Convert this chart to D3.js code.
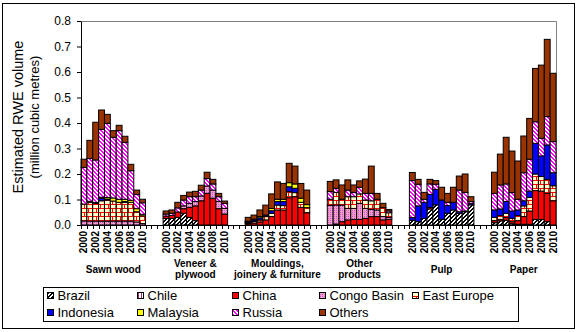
<!DOCTYPE html>
<html>
<head>
<meta charset="utf-8">
<script src="https://cdn.jsdelivr.net/npm/d3@7"></script>
<style>
  body { margin: 0; background: #fff; }
  svg { display: block; font-family: "Liberation Sans", Arial, sans-serif; }
</style>
</head>
<body>
<svg id="chart" width="577" height="332"></svg>
<script>
// ---- data -----------------------------------------------------------
const years = ["2000","2001","2002","2003","2004","2005","2006","2007","2008","2009","2010"];
const labelledYears = ["2000","2002","2004","2006","2008","2010"];
const products = ["Sawn wood","Veneer & plywood","Mouldings, joinery & furniture","Other products","Pulp","Paper"];
const productLabelLines = [["Sawn wood"],["Veneer &","plywood"],["Mouldings,","joinery & furniture"],["Other","products"],["Pulp"],["Paper"]];
const yTicks = [0,0.1,0.2,0.3,0.4,0.5,0.6,0.7,0.8];
const countries = ["Brazil","Chile","China","Congo Basin","East Europe","Indonesia","Malaysia","Russia","Others"];

// million m3 RWE, 2000-2010 for each product in the order above
const brazil = [
  0,0,0,0,0,0,0,0,0,0,0,
  0.026,0.026,0.030,0.046,0.030,0.017,0,0,0,0,0,
  0,0,0,0,0,0,0,0,0,0,0,
  0,0,0,0,0,0,0,0,0,0,0,
  0.018,0.013,0.026,0.063,0.079,0.023,0.046,0.059,0.046,0.052,0.079,
  0.009,0.016,0.019,0.005,0.003,0.003,0.003,0.022,0.022,0.013,0
];
const chile = [
  0,0,0,0,0,0,0,0,0,0,0,
  0,0,0,0,0,0,0,0,0,0,0,
  0,0,0,0,0,0,0,0,0,0,0,
  0,0,0,0,0,0,0,0,0,0,0,
  0,0,0,0,0,0,0,0,0,0,0,
  0,0,0,0,0,0,0,0,0,0,0
];
const china = [
  0,0,0,0,0,0,0,0,0,0,0,
  0.009,0.012,0.021,0.018,0.039,0.058,0.095,0.124,0.105,0.064,0.043,
  0.005,0.008,0.012,0.020,0.033,0.059,0.059,0.107,0.111,0.069,0.048,
  0,0.004,0.013,0.020,0.022,0.022,0.026,0.033,0.033,0.020,0.022,
  0,0,0,0.006,0,0,0,0,0,0,0,
  0.008,0.006,0.010,0.008,0.014,0.030,0.052,0.113,0.111,0.111,0.095
];
const congoBasin = [
  0.016,0.015,0.015,0.015,0.015,0.015,0.015,0.015,0.015,0.012,0.006,
  0,0,0,0.011,0.016,0.017,0.019,0.029,0.032,0.029,0.022,
  0,0,0,0,0,0,0,0,0,0,0,
  0.077,0.074,0.065,0.045,0.043,0.063,0.039,0.028,0.026,0.013,0.008,
  0,0,0,0,0,0,0,0,0,0,0,
  0,0,0,0,0,0,0,0,0,0,0
];
const eastEurope = [
  0.066,0.074,0.070,0.080,0.083,0.079,0.074,0.074,0.074,0.040,0.030,
  0,0,0,0,0,0,0,0,0,0,0,
  0.004,0.006,0.008,0.013,0.013,0.019,0.017,0.024,0.016,0.020,0.020,
  0.024,0.050,0.023,0.046,0.046,0.037,0.033,0.034,0.042,0.035,0.018,
  0,0,0,0,0,0,0,0,0,0,0,
  0.013,0.015,0.017,0.013,0.020,0.042,0.053,0.065,0.057,0.055,0.059
];
const indonesia = [
  0,0.004,0.003,0.010,0.004,0,0,0.003,0,0,0,
  0,0,0,0,0,0,0,0,0,0,0,
  0.004,0.006,0.008,0.006,0.010,0.014,0.016,0.019,0.017,0,0,
  0,0,0,0,0,0,0,0,0,0,0,
  0.011,0.062,0.063,0.051,0.061,0.075,0.030,0.030,0.006,0.003,0.006,
  0.029,0.026,0.046,0.029,0.022,0.020,0.025,0.120,0.081,0.135,0.051
];
const malaysia = [
  0,0,0,0.004,0.006,0.012,0.012,0.009,0.008,0.012,0.006,
  0,0,0,0,0,0,0,0,0,0,0,
  0.002,0.003,0.005,0,0.009,0.009,0.009,0.016,0.017,0.016,0.012,
  0,0,0,0,0,0,0,0,0,0,0,
  0,0,0,0,0,0,0,0,0,0,0,
  0,0,0,0,0,0,0,0,0,0,0
];
const russia = [
  0.144,0.168,0.167,0.266,0.291,0.238,0.269,0.223,0.116,0.056,0.045,
  0.008,0.008,0.016,0.023,0.026,0.019,0.023,0.029,0.024,0.018,0.020,
  0,0,0,0,0,0,0,0,0,0,0,
  0.030,0.016,0,0.026,0.017,0.026,0.026,0.029,0,0,0.007,
  0.145,0.085,0.012,0.041,0.020,0,0.013,0,0.085,0.073,0.007,
  0.065,0.094,0.069,0.072,0.042,0.110,0.125,0.085,0.069,0.111,0.122
];
const others = [
  0.032,0.071,0.148,0.076,0.035,0.026,0.021,0.024,0.025,0.017,0.014,
  0.012,0.013,0.022,0.018,0.018,0.021,0.019,0.025,0.018,0.013,0.009,
  0.015,0.016,0.026,0.039,0.057,0.068,0.062,0.076,0.070,0.058,0.057,
  0.040,0.033,0.056,0.040,0.029,0.025,0.056,0.107,0.023,0.017,0.006,
  0.032,0.019,0.027,0.018,0.014,0.050,0.035,0.059,0.055,0.072,0.019,
  0.083,0.121,0.183,0.163,0.150,0.144,0.160,0.209,0.287,0.303,0.268
];
const seriesValues = [brazil, chile, china, congoBasin, eastEurope, indonesia, malaysia, russia, others];

// ---- layout ---------------------------------------------------------
const svg = d3.select("#chart");
const plot = { left: 81, right: 556, top: 21, bottom: 225 };
const gapSlots = 3;

// one band per year, with empty spacer bands between products
const slotKeys = [];
products.forEach((p, pi) => {
  years.forEach(y => slotKeys.push(p + "|" + y));
  if (pi < products.length - 1) for (let g = 0; g < gapSlots; g++) slotKeys.push("gap" + pi + "-" + g);
});

const x = d3.scaleBand().domain(slotKeys).range([plot.left, plot.right]).padding(0);
const y = d3.scaleLinear().domain([0, 0.8]).range([plot.bottom, plot.top]);

const rows = [];
products.forEach((p, pi) => years.forEach((yr, yi) => {
  const row = { key: p + "|" + yr, product: p, year: yr };
  countries.forEach((c, ci) => row[c] = seriesValues[ci][pi * years.length + yi]);
  rows.push(row);
}));
const stacked = d3.stack().keys(countries)(rows);

// ---- fills ----------------------------------------------------------
const defs = svg.append("defs");
function pattern(id, w, h) {
  return defs.append("pattern").attr("id", id).attr("patternUnits", "userSpaceOnUse")
    .attr("width", w).attr("height", h).attr("shape-rendering", "crispEdges");
}
// pixel-stepped diagonal stripes on a 4x4 tile
function diagonal(id, bg, fg, rising) {
  const t = pattern(id, 4, 4);
  t.append("rect").attr("width", 4).attr("height", 4).attr("fill", bg);
  for (let i = 0; i < 4; i++) for (let j = 0; j < 4; j++) {
    const k = rising ? (i + j) % 4 : ((i - j) % 4 + 4) % 4;
    if (k < 2) t.append("rect").attr("x", i).attr("y", j).attr("width", 1).attr("height", 1).attr("fill", fg);
  }
}
diagonal("pBrazil", "#fff", "#000", true);
diagonal("pRussia", "#FF00FF", "#fff", false);
let p;
p = pattern("pChile", 3, 3);
p.append("rect").attr("width", 3).attr("height", 3).attr("fill", "#fff");
p.append("rect").attr("x", 0).attr("width", 1).attr("height", 3).attr("fill", "#993366");
p = pattern("pCongo", 4, 4);
p.append("rect").attr("width", 4).attr("height", 4).attr("fill", "#FF99CC");
p.append("rect").attr("width", 1).attr("height", 1).attr("fill", "#9966CC");
p.append("rect").attr("x", 2).attr("y", 2).attr("width", 1).attr("height", 1).attr("fill", "#9966CC");
p.append("rect").attr("x", 2).attr("y", 0).attr("width", 1).attr("height", 1).attr("fill", "#CC66CC");
p.append("rect").attr("x", 0).attr("y", 2).attr("width", 1).attr("height", 1).attr("fill", "#CC66CC");
p = pattern("pEast", 8, 8);
p.append("rect").attr("width", 8).attr("height", 8).attr("fill", "#FFFFCC");
p.append("path").attr("d", "M0,0.5H8M0,4.5H8M0.5,0V4.5M4.5,4.5V8").attr("stroke", "#FF0000").attr("stroke-width", 1);

const fills = {
  "Brazil": "url(#pBrazil)",
  "Chile": "url(#pChile)",
  "China": "#FF0000",
  "Congo Basin": "url(#pCongo)",
  "East Europe": "url(#pEast)",
  "Indonesia": "#0000FF",
  "Malaysia": "#FFFF00",
  "Russia": "url(#pRussia)",
  "Others": "#993300"
};

// ---- frame ----------------------------------------------------------
svg.append("rect").attr("x", 2.5).attr("y", 3.5).attr("width", 572).attr("height", 325)
  .attr("fill", "#fff").attr("stroke", "#000").attr("stroke-width", 1);

// plot area border (top and right)
svg.append("path")
  .attr("d", `M${plot.left},${plot.top + 0.5}H${plot.right + 0.5}V${plot.bottom}`)
  .attr("fill", "none").attr("stroke", "#808080");

// ---- bars -----------------------------------------------------------
const layer = svg.append("g");
stacked.forEach(s => {
  layer.append("g").attr("fill", fills[s.key])
    .selectAll("rect")
    .data(s.filter(d => d[1] - d[0] > 0))
    .join("rect")
    .attr("x", d => x(d.data.key))
    .attr("y", d => y(d[1]))
    .attr("width", x.bandwidth())
    .attr("height", d => y(d[0]) - y(d[1]))
    .attr("stroke", "#000").attr("stroke-width", 1);
});

// ---- axes -----------------------------------------------------------
const yAxis = svg.append("g").attr("transform", `translate(${plot.left},0)`)
  .call(d3.axisLeft(y).tickValues(yTicks).tickFormat(d3.format(".1f")).tickSizeInner(4).tickSizeOuter(0).tickPadding(6));
yAxis.select(".domain").attr("stroke", "#000");
yAxis.selectAll("text").attr("font-size", 12).attr("font-family", "Liberation Sans, Arial, sans-serif").attr("fill", "#000");

// category axis: line plus a tick at every band boundary
const xAxis = svg.append("g");
xAxis.append("line").attr("x1", plot.left).attr("x2", plot.right + 0.5)
  .attr("y1", plot.bottom + 0.5).attr("y2", plot.bottom + 0.5).attr("stroke", "#000");
const boundaries = slotKeys.map(k => x(k)).concat([plot.right]);
xAxis.selectAll("line.tick").data(boundaries).join("line").attr("class", "tick")
  .attr("x1", d => Math.round(d) + 0.5).attr("x2", d => Math.round(d) + 0.5)
  .attr("y1", plot.bottom).attr("y2", plot.bottom + 4).attr("stroke", "#000");

// year labels, every other year
products.forEach(prod => {
  labelledYears.forEach(yr => {
    const cx = x(prod + "|" + yr) + x.bandwidth() / 2;
    xAxis.append("text")
      .attr("transform", `translate(${cx},231) rotate(-90)`)
      .attr("text-anchor", "end").attr("dy", "0.35em")
      .attr("font-size", 10).attr("font-weight", "bold").attr("fill", "#000")
      .text(yr);
  });
});

// product labels
products.forEach((prod, pi) => {
  const x0 = x(prod + "|" + years[0]);
  const x1 = x(prod + "|" + years[years.length - 1]) + x.bandwidth();
  const lines = productLabelLines[pi];
  const baselines = lines.length === 1 ? [272.5] : [266.5, 277.5];
  lines.forEach((ln, li) => {
    xAxis.append("text").attr("x", (x0 + x1) / 2).attr("y", baselines[li])
      .attr("text-anchor", "middle").attr("font-size", 10).attr("font-weight", "bold")
      .attr("fill", "#000").text(ln);
  });
});

// y axis title
const title = svg.append("g").attr("transform", "translate(0,117)");
title.append("text").attr("transform", "translate(23,0) rotate(-90)").attr("text-anchor", "middle")
  .attr("font-size", 14.5).attr("fill", "#000").text("Estimated RWE volume");
title.append("text").attr("transform", "translate(39,0) rotate(-90)").attr("text-anchor", "middle")
  .attr("font-size", 13).attr("fill", "#000").text("(million cubic metres)");

// ---- legend ---------------------------------------------------------
const legend = svg.append("g");
legend.append("rect").attr("x", 43.5).attr("y", 287.5).attr("width", 475).attr("height", 34)
  .attr("fill", "#fff").attr("stroke", "#000");
const colX = [47, 137, 232, 319, 412];
const rowY = [295.5, 312.5];
countries.forEach((c, i) => {
  const cx = colX[i % 5], cy = rowY[Math.floor(i / 5)];
  legend.append("rect").attr("x", cx + 0.5).attr("y", cy - 3).attr("width", 6).attr("height", 6)
    .attr("fill", fills[c]).attr("stroke", "#000");
  legend.append("text").attr("x", cx + 10.5).attr("y", cy).attr("dy", "0.36em")
    .attr("font-size", 13).attr("fill", "#000").text(c);
});
</script>
</body>
</html>
